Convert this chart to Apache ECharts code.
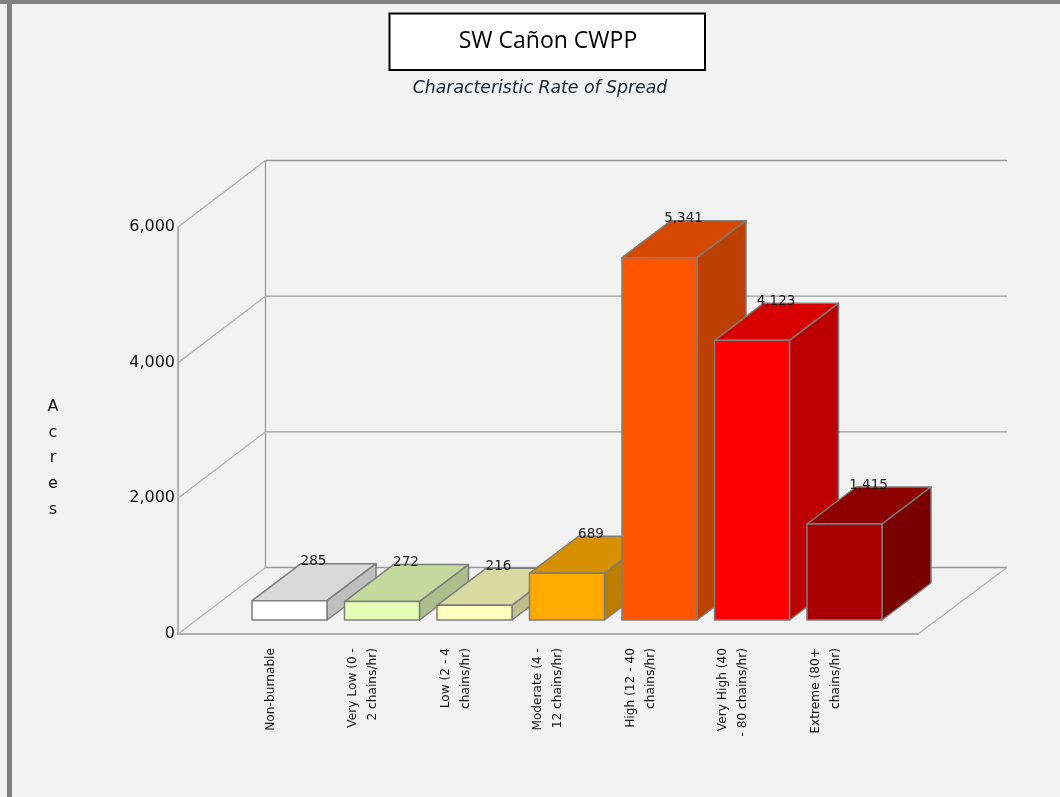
<!DOCTYPE html>
<html>
<head>
<meta charset="utf-8">
<style>html,body{margin:0;padding:0;background:#f2f2f2}#c{width:1060px;height:797px}</style>
<script src="https://cdn.jsdelivr.net/npm/echarts@6/dist/echarts.min.js"></script>
</head>
<body>
<div id="c"></div>
<script>
const categories = ['Non-burnable','Very Low (0 -\n2 chains/hr)','Low (2 - 4\nchains/hr)','Moderate (4 -\n12 chains/hr)','High (12 - 40\nchains/hr)','Very High (40\n- 80 chains/hr)','Extreme (80+\nchains/hr)'];
const acres = [285,272,216,689,5341,4123,1415];
const frontColors = ['#ffffff','#e5ffb6','#ffffbe','#ffaa00','#ff5500','#ff0000','#a80000'];
const topColors   = ['#d9d9d9','#c3d99d','#d9d9a2','#d69000','#d64800','#d60000','#8c0000'];
const sideColors  = ['#bfbfbf','#acbf8a','#bfbf8e','#bc7e00','#bc4000','#bc0000','#7a0000'];
const gridValues = [0,2000,4000,6000];
const FONT = '"DejaVu Sans", sans-serif';
const WALL = {dx:87.5, dy:-66.5};
const BAR = {shiftX:19, baseUp:14, halfW:37.5, dx:49, dy:-37};
const EDGE = '#7d7d7d';

function poly(points, fill, z2){
  return {type:'polygon', z2:z2||0, shape:{points}, style:{fill, stroke:EDGE, lineWidth:1.5, lineJoin:'round'}};
}
function line(a,b,color,w){
  return {type:'line', shape:{x1:a[0],y1:a[1],x2:b[0],y2:b[1]}, style:{stroke:color, lineWidth:w||1.3}};
}
function renderWall(params, api){
  const v = api.value(0);
  const l = api.coord([-1,v]), r = api.coord([7,v]);
  const bl = [l[0]+WALL.dx, l[1]+WALL.dy], br = [r[0]+WALL.dx+1.5, r[1]+WALL.dy];
  const kids = [line(l,bl,'#b0b0b0'), line(bl,br,'#999999')];
  if (v === 0) {
    const t = api.coord([-1,6000]);
    kids.push(line([bl[0],t[1]+WALL.dy], bl, '#999999'));
    kids.push(line(r, br, '#b0b0b0'));
  }
  return {type:'group', children:kids};
}
function renderBar(params, api){
  const i = api.value(0), v = api.value(1);
  const c = api.coord([i,0]), t = api.coord([i,v]);
  const xl = c[0]+BAR.shiftX-BAR.halfW, xr = c[0]+BAR.shiftX+BAR.halfW;
  const yb = c[1]-BAR.baseUp, yt = t[1]-BAR.baseUp;
  const d = BAR;
  return {type:'group', children:[
    poly([[xl,yt],[xr,yt],[xr+d.dx,yt+d.dy],[xl+d.dx,yt+d.dy]], topColors[i]),
    poly([[xr,yt],[xr+d.dx,yt+d.dy],[xr+d.dx,yb+d.dy],[xr,yb]], sideColors[i]),
    poly([[xl,yt],[xr,yt],[xr,yb],[xl,yb]], frontColors[i])
  ]};
}
function renderLabel(params, api){
  const i = api.value(0), v = api.value(1);
  const c = api.coord([i,0]), t = api.coord([i,v]);
  return {type:'text', style:{
    text: v.toLocaleString('en-US'),
    x: c[0]+BAR.shiftX+24, y: t[1]-BAR.baseUp+BAR.dy-2,
    align:'center', verticalAlign:'middle', fill:'#1c1c1c', font:'13.5px '+FONT
  }};
}
const chart = echarts.init(document.getElementById('c'), null, {renderer:'canvas'});
chart.setOption({
  animation:false,
  backgroundColor:'#f2f2f2',
  title:[
    {text:'SW Cañon CWPP', left:543, top:25, textAlign:'center', z:10,
     textStyle:{fontFamily:'"Open Sans", sans-serif', fontSize:23, fontWeight:'normal', color:'#000'}},
    {text:'Characteristic Rate of Spread', left:535, top:75, textAlign:'center',
     textStyle:{fontFamily:FONT, fontSize:17.3, fontStyle:'italic', fontWeight:'normal', color:'#1a2433'}},
    {text:'A\nc\nr\ne\ns', left:48, top:389, textAlign:'center',
     textStyle:{fontFamily:FONT, fontSize:16, fontWeight:'normal', color:'#111', lineHeight:25.7, align:'center'}}
  ],
  graphic:[
    {type:'rect', z:0, shape:{x:0,y:0,width:1060,height:4}, style:{fill:'#808080'}},
    {type:'rect', z:0, shape:{x:7,y:0,width:5,height:797}, style:{fill:'#808080'}},
    {type:'rect', z:1, shape:{x:389.5,y:13.5,width:315.5,height:56.5}, style:{fill:'#fff',stroke:'#000',lineWidth:2}}
  ],
  grid:{left:178, top:227, width:740, height:407, containLabel:false},
  xAxis:{type:'value', min:-1, max:7, interval:1, splitLine:{show:false},
    axisTick:{show:false},
    axisLine:{show:true, onZero:false, lineStyle:{color:'#999', width:1.5}},
    axisLabel:{rotate:90, margin:14, interval:0, showMinLabel:false, showMaxLabel:false,
      fontFamily:FONT, fontSize:12.2, color:'#111', lineHeight:20, align:'right', verticalAlign:'middle',
      formatter:function(v){return categories[v]||'';}}},
  yAxis:{type:'value', min:0, max:6000, interval:2000, splitLine:{show:false},
    axisTick:{show:false},
    axisLine:{show:true, onZero:false, lineStyle:{color:'#999', width:1.5}},
    axisLabel:{margin:3, padding:[0,0,2,0], fontFamily:FONT, fontSize:16, color:'#111',
      formatter:function(v){return v.toLocaleString('en-US');}}},
  series:[
    {type:'custom', name:'walls', silent:true, clip:false, z:1, renderItem:renderWall,
     data:gridValues.map(v=>[v])},
    {type:'custom', name:'Acres', silent:true, clip:false, z:2, renderItem:renderBar,
     encode:{x:0,y:1}, data:acres.map((v,i)=>[i,v])},
    {type:'custom', name:'labels', silent:true, clip:false, z:3, renderItem:renderLabel,
     encode:{x:0,y:1}, data:acres.map((v,i)=>[i,v])}
  ]
});
</script>
</body>
</html>
